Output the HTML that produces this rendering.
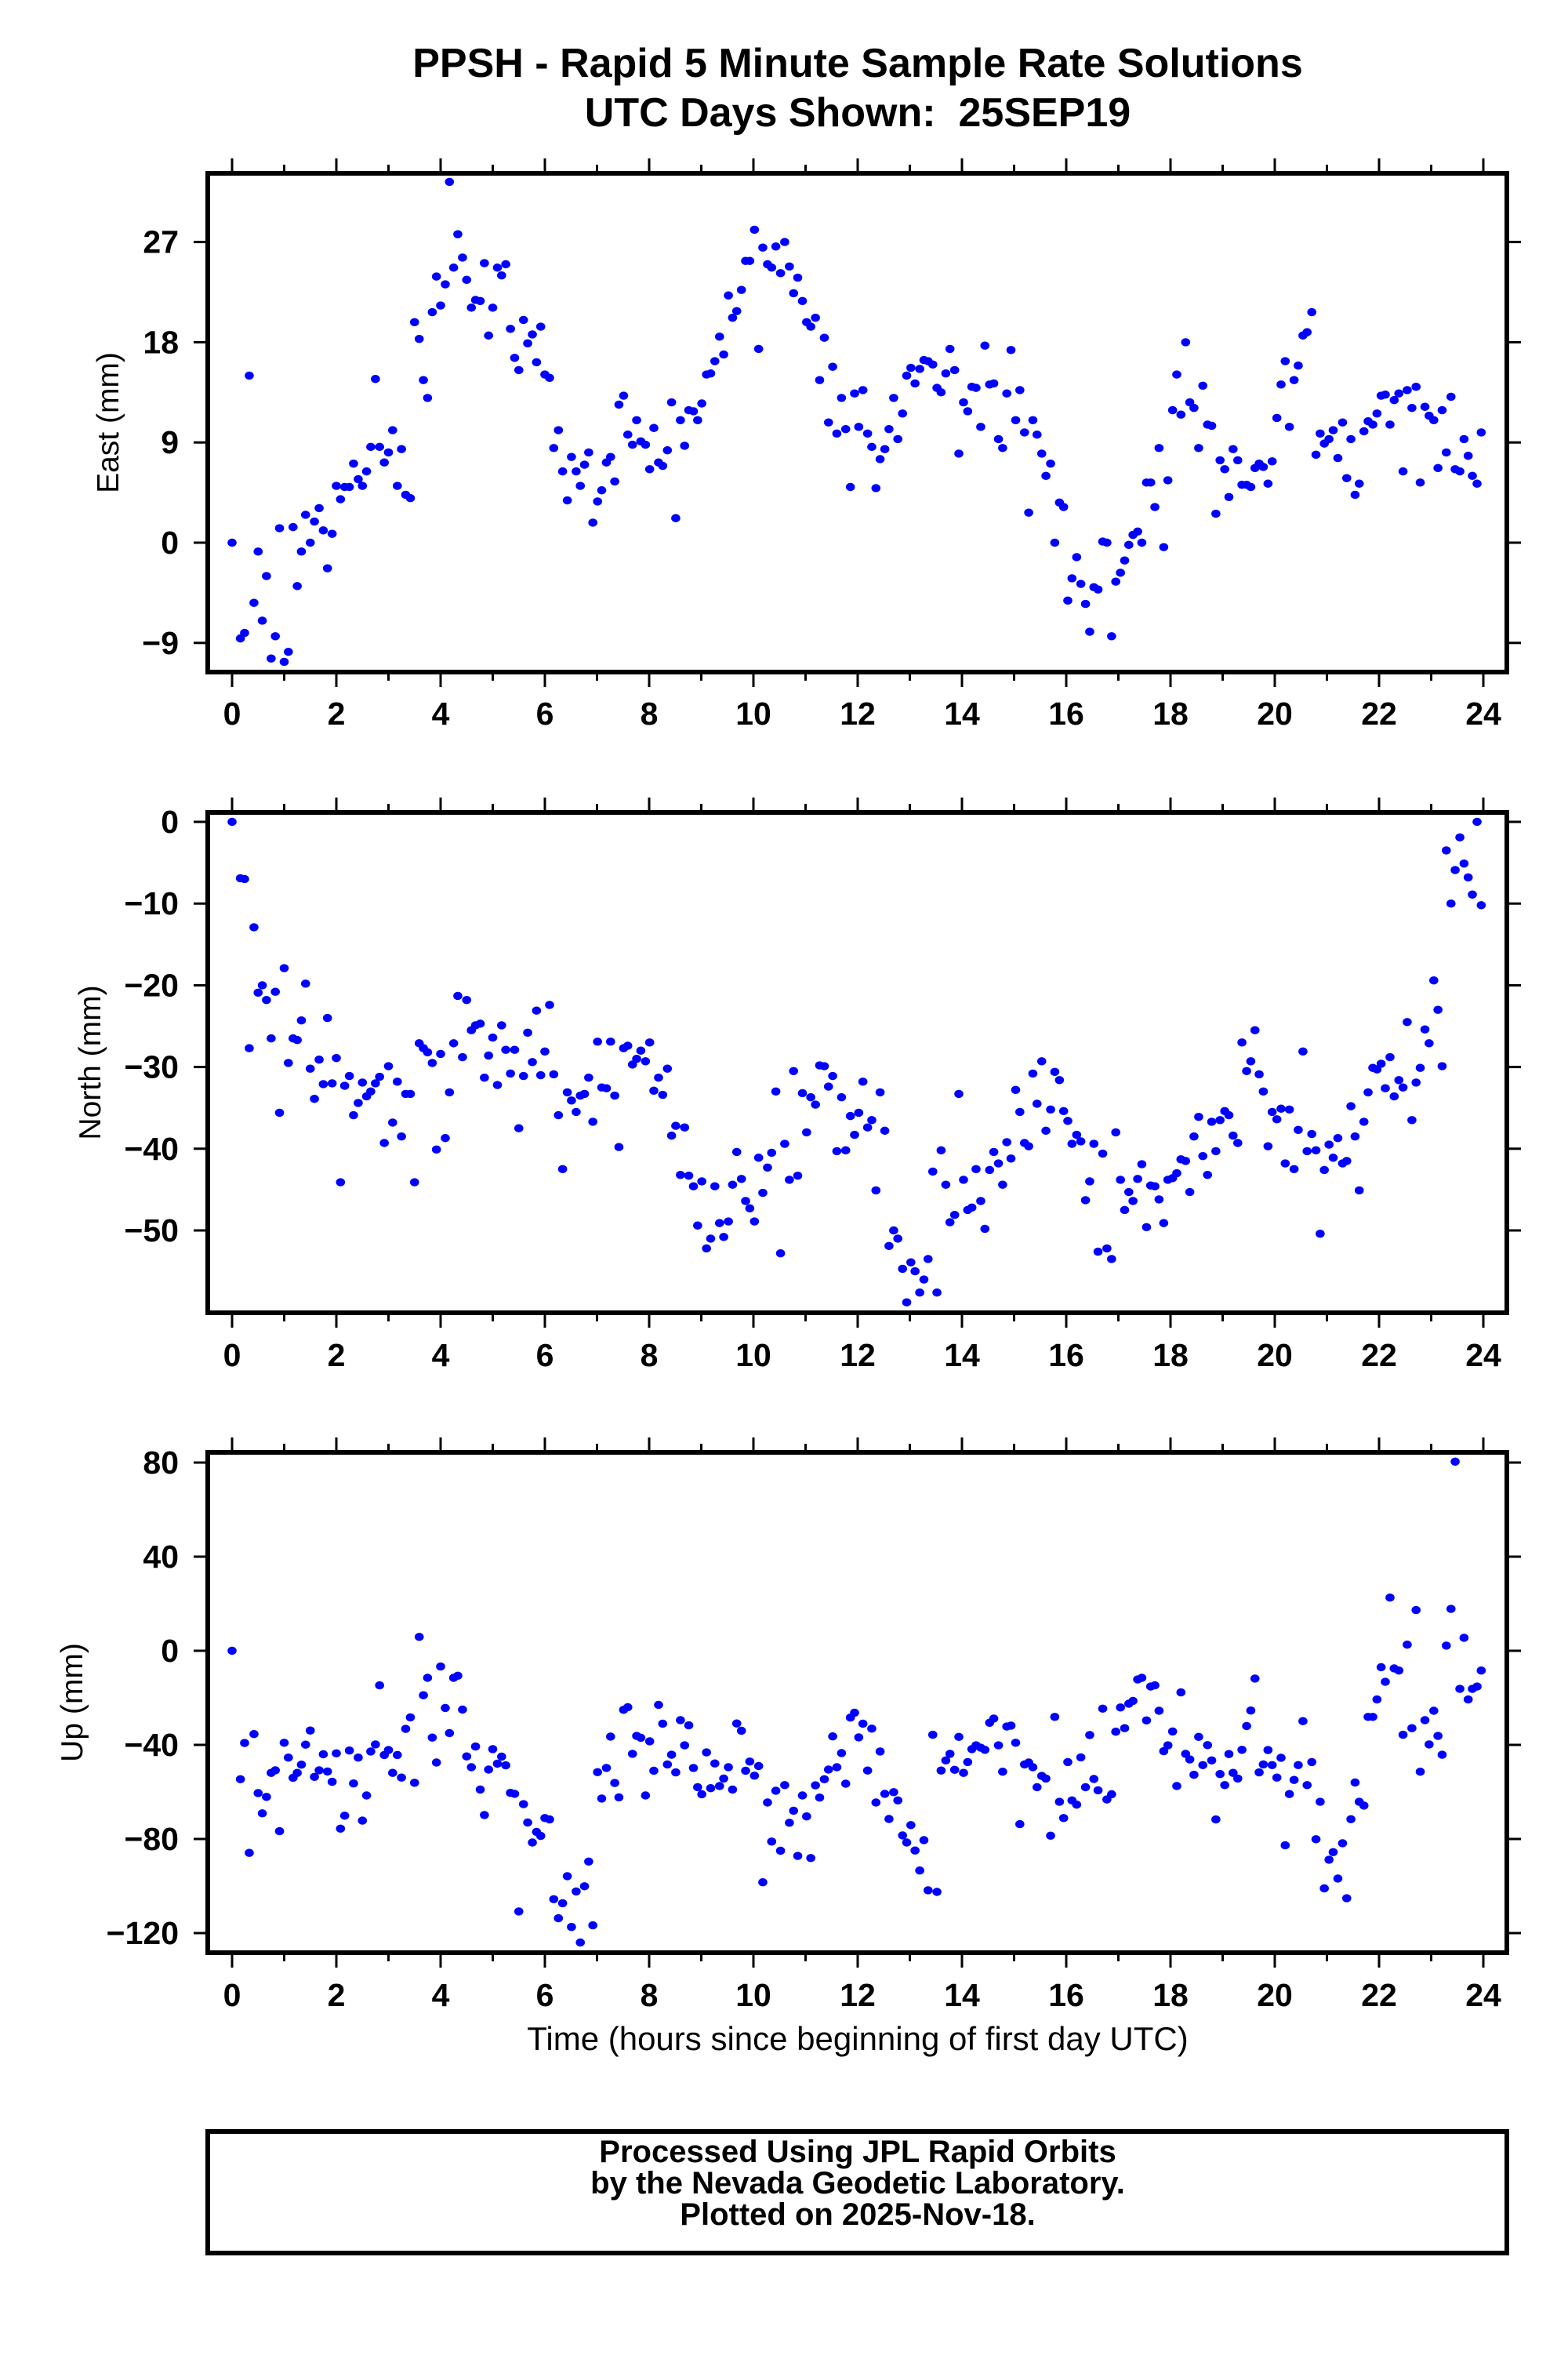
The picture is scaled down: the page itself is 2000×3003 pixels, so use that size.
<!DOCTYPE html>
<html><head><meta charset="utf-8"><style>
html,body{margin:0;padding:0;background:#fff}
svg{display:block}
text{font-family:"Liberation Sans",Arial,sans-serif}
</style></head><body>
<svg id="chart" width="2000" height="3003" viewBox="0 0 2000 3003" xmlns="http://www.w3.org/2000/svg">
<rect width="2000" height="3003" fill="#fff"/>
<text x="1094" y="98" font-size="52" font-weight="bold" text-anchor="middle">PPSH - Rapid 5 Minute Sample Rate Solutions</text>
<text x="1094" y="161" font-size="52" font-weight="bold" text-anchor="middle" xml:space="preserve">UTC Days Shown:  25SEP19</text>
<g id="panels"></g>
<text x="1094" y="2614" font-size="42" text-anchor="middle">Time (hours since beginning of first day UTC)</text>
<rect x="265" y="2718" width="1657" height="155" fill="none" stroke="#000" stroke-width="6"/>
<text x="1094" y="2757" font-size="40" font-weight="bold" text-anchor="middle">Processed Using JPL Rapid Orbits</text>
<text x="1094" y="2797" font-size="40" font-weight="bold" text-anchor="middle">by the Nevada Geodetic Laboratory.</text>
<text x="1094" y="2837" font-size="40" font-weight="bold" text-anchor="middle">Plotted on 2025-Nov-18.</text>
</svg>
<script>
const xTicks=[0,2,4,6,8,10,12,14,16,18,20,22,24];
const eastTicks=[-9,0,9,18,27];
const northTicks=[0,-10,-20,-30,-40,-50];
const upTicks=[80,40,0,-40,-80,-120];
const eastT=[0,.16,.24,.33,.42,.5,.58,.66,.75,.83,.91,1.0,1.08,1.17,1.25,1.33,1.41,1.5,1.58,1.67,1.75,1.83,1.92,2.0,2.08,2.16,2.25,2.33,2.42,2.5,2.58,2.66,2.75,2.83,2.92,3.0,3.08,3.17,3.25,3.33,3.42,3.5,3.59,3.67,3.75,3.84,3.92,4.0,4.09,4.17,4.25,4.33,4.42,4.5,4.59,4.67,4.76,4.84,4.92,5.0,5.09,5.17,5.25,5.34,5.42,5.5,5.59,5.67,5.76,5.84,5.92,6.0,6.09,6.17,6.26,6.34,6.43,6.51,6.6,6.68,6.76,6.84,6.92,7.01,7.09,7.18,7.26,7.34,7.42,7.51,7.59,7.68,7.76,7.84,7.93,8.01,8.09,8.18,8.26,8.35,8.43,8.51,8.6,8.68,8.76,8.85,8.93,9.01,9.1,9.18,9.26,9.35,9.43,9.52,9.6,9.68,9.77,9.85,9.93,10.02,10.1,10.18,10.27,10.35,10.43,10.52,10.6,10.69,10.77,10.85,10.94,11.02,11.1,11.19,11.27,11.36,11.44,11.52,11.6,11.69,11.77,11.86,11.94,12.02,12.1,12.19,12.27,12.35,12.43,12.52,12.6,12.69,12.77,12.86,12.94,13.02,13.1,13.19,13.27,13.35,13.44,13.52,13.6,13.69,13.77,13.86,13.94,14.03,14.11,14.19,14.27,14.36,14.44,14.53,14.61,14.7,14.78,14.86,14.94,15.03,15.11,15.2,15.28,15.36,15.44,15.53,15.61,15.7,15.78,15.87,15.95,16.03,16.11,16.2,16.28,16.37,16.45,16.53,16.61,16.7,16.78,16.87,16.95,17.04,17.12,17.2,17.28,17.37,17.45,17.54,17.62,17.7,17.78,17.87,17.95,18.04,18.12,18.2,18.29,18.37,18.45,18.54,18.62,18.71,18.79,18.87,18.95,19.04,19.12,19.2,19.29,19.37,19.46,19.54,19.62,19.7,19.78,19.87,19.95,20.04,20.12,20.2,20.28,20.37,20.45,20.54,20.62,20.71,20.79,20.87,20.95,21.04,21.12,21.21,21.3,21.38,21.46,21.54,21.62,21.71,21.79,21.88,21.96,22.04,22.12,22.21,22.29,22.38,22.46,22.54,22.63,22.71,22.79,22.88,22.96,23.05,23.13,23.21,23.29,23.38,23.46,23.55,23.63,23.71,23.79,23.88,23.96];
const eastV=[0,-8.6,-8.1,15.0,-5.4,-0.8,-7.0,-3.0,-10.4,-8.4,1.3,-10.7,-9.8,1.4,-3.9,-0.8,2.5,0,1.9,3.1,1.1,-2.3,0.8,5.1,3.9,5.0,5.0,7.1,5.7,5.1,6.4,8.6,14.7,8.6,7.2,8.1,10.1,5.1,8.4,4.3,4.0,19.8,18.3,14.6,13.0,20.7,23.9,21.3,23.2,32.4,24.7,27.7,25.6,23.6,21.1,21.8,21.7,25.1,18.6,21.1,24.7,24.0,25.0,19.2,16.6,15.5,20.0,17.9,18.7,16.2,19.4,15.1,14.8,8.5,10.1,6.4,3.8,7.7,6.4,5.1,7.0,8.1,1.8,3.7,4.7,7.2,7.7,5.5,12.4,13.2,9.7,8.8,11.0,9.1,8.8,6.6,10.3,7.2,6.9,8.3,12.6,2.2,11.0,8.7,11.9,11.8,11.0,12.5,15.1,15.2,16.3,18.5,16.9,22.2,20.2,20.8,22.7,25.3,25.3,28.1,17.4,26.5,25.0,24.7,26.6,24.2,27.0,24.8,22.4,23.8,21.7,19.8,19.4,20.2,14.6,18.4,10.8,15.8,9.8,13.0,10.2,5.0,13.4,10.4,13.7,9.8,8.6,4.9,7.5,8.4,10.2,13.0,9.3,11.6,15.0,15.7,14.3,15.6,16.4,16.3,16.0,13.9,13.5,15.2,17.4,15.5,8.0,12.6,11.8,14.0,13.9,10.4,17.7,14.2,14.3,9.3,8.5,13.4,17.3,11.0,13.7,9.9,2.7,11.0,9.7,8.0,6.0,7.1,0.0,3.6,3.2,-5.2,-3.2,-1.3,-3.7,-5.5,-8.0,-4.0,-4.2,0.1,0,-8.4,-3.5,-2.7,-1.6,-0.2,0.7,1.0,0,5.4,5.4,3.2,8.5,-0.4,5.6,11.9,15.1,11.5,18.0,12.6,12.1,8.5,14.1,10.6,10.5,2.6,7.4,6.6,4.1,8.4,7.4,5.2,5.2,5.0,6.7,7.1,6.8,5.3,7.3,11.2,14.2,16.3,10.4,14.6,15.9,18.6,18.9,20.7,7.9,9.8,8.9,9.3,10.1,7.6,10.8,5.8,9.3,4.3,5.3,10.0,10.9,10.6,11.6,13.2,13.3,10.6,12.8,13.4,6.4,13.7,12.1,14.0,5.4,12.2,11.4,11.0,6.7,11.9,8.1,13.1,6.6,6.4,9.3,7.8,6.0,5.3,9.9];
const northT=eastT.slice();
const northV=[0,-6.9,-7.0,-27.7,-12.9,-20.9,-20.0,-21.8,-26.5,-20.8,-35.6,-17.9,-29.5,-26.5,-26.7,-24.3,-19.8,-30.2,-33.9,-29.1,-32.1,-24.0,-32.0,-28.9,-44.1,-32.3,-31.1,-35.9,-34.4,-31.9,-33.6,-33.0,-32.0,-31.2,-39.3,-29.9,-36.8,-31.8,-38.5,-33.3,-33.3,-44.1,-27.1,-27.7,-28.2,-29.5,-40.1,-28.4,-38.7,-33.1,-27.1,-21.3,-28.8,-21.8,-25.5,-24.9,-24.7,-31.3,-28.6,-26.4,-32.2,-24.9,-27.9,-30.8,-27.9,-37.5,-31.1,-25.8,-29.4,-23.1,-31.0,-28.1,-22.4,-30.9,-35.9,-42.5,-33.1,-34.1,-35.5,-33.5,-33.3,-31.3,-36.7,-26.9,-32.5,-32.6,-26.9,-33.5,-39.8,-27.7,-27.4,-29.7,-29.0,-28.0,-29.3,-27.0,-32.9,-31.3,-33.4,-30.2,-38.4,-37.2,-43.2,-37.4,-43.3,-44.6,-49.4,-44.0,-52.2,-51.0,-44.6,-49.1,-50.8,-48.9,-44.4,-40.4,-43.7,-46.4,-47.3,-48.9,-41.1,-45.4,-42.3,-40.5,-33.0,-52.8,-39.4,-43.8,-30.5,-43.3,-33.2,-38.0,-33.7,-34.6,-29.8,-29.9,-32.4,-31.1,-40.3,-33.7,-40.2,-36.0,-38.3,-35.6,-31.8,-37.4,-36.5,-45.1,-33.1,-37.8,-51.9,-50.0,-51.0,-54.7,-58.8,-53.9,-55.0,-57.6,-56.0,-53.5,-42.8,-57.6,-40.2,-44.4,-49.0,-48.1,-33.3,-43.8,-47.5,-47.2,-42.5,-46.4,-49.8,-42.6,-40.4,-41.8,-44.4,-39.2,-41.2,-32.8,-35.5,-39.3,-39.7,-30.8,-34.5,-29.3,-37.8,-35.2,-30.6,-31.6,-35.4,-36.6,-39.4,-38.3,-39.1,-46.3,-44.0,-39.4,-52.6,-40.6,-52.2,-53.5,-38.0,-43.8,-47.5,-45.3,-46.4,-43.7,-41.9,-49.6,-44.5,-44.6,-46.2,-49.1,-43.8,-43.6,-43.0,-41.3,-41.5,-45.3,-38.5,-36.1,-40.9,-43.2,-36.7,-40.3,-36.5,-35.4,-35.9,-38.4,-39.3,-27.0,-30.5,-29.3,-25.5,-30.9,-33.0,-39.7,-35.5,-36.4,-35.1,-41.8,-35.2,-42.5,-37.7,-28.1,-40.3,-38.2,-40.2,-50.4,-42.6,-39.5,-41.1,-38.7,-41.8,-41.5,-34.8,-38.5,-45.1,-36.7,-33.1,-30.1,-30.3,-29.6,-32.6,-28.8,-33.6,-31.6,-32.5,-24.5,-36.5,-31.9,-30.1,-25.4,-27.1,-19.4,-23.0,-29.9,-3.5,-10.0,-5.9,-1.9,-5.1,-6.8,-8.9,0,-10.2];
const upT=eastT.slice();
const upV=[0,-54.6,-39.2,-85.9,-35.4,-60.5,-69.1,-62.1,-51.9,-50.8,-76.7,-39.1,-45.4,-54.0,-51.9,-48.4,-39.9,-33.9,-53.6,-50.8,-44.0,-51.3,-55.7,-43.6,-75.6,-70.1,-42.4,-56.4,-45.4,-72.2,-61.5,-42.8,-39.8,-14.7,-44.3,-42.2,-51.9,-44.3,-53.9,-33.2,-28.3,-56.1,5.9,-18.9,-11.5,-36.9,-47.5,-6.7,-24.3,-35.0,-11.5,-10.6,-25.0,-44.9,-49.5,-40.7,-59.0,-69.8,-50.5,-41.8,-48.0,-45.0,-48.7,-60.4,-60.8,-110.8,-65.2,-73.0,-81.5,-77.0,-78.7,-71.1,-71.7,-105.6,-113.7,-107.3,-95.8,-117.4,-102.3,-124.0,-100.1,-89.6,-116.7,-51.6,-62.8,-49.8,-36.5,-56.2,-62.3,-25.1,-24.0,-43.8,-36.2,-37.0,-61.5,-38.5,-51.0,-23.0,-31.0,-48.3,-44.2,-51.7,-29.5,-40.2,-31.7,-49.8,-58.0,-61.0,-43.2,-58.4,-47.9,-57.5,-54.3,-49.5,-59.0,-30.9,-34.0,-51.0,-47.1,-53.1,-49.0,-98.4,-64.5,-81.1,-59.5,-85.0,-57.1,-73.1,-68.0,-87.2,-61.5,-70.4,-88.1,-57.2,-62.4,-54.6,-50.5,-36.4,-49.5,-43.5,-56.5,-28.4,-26.3,-36.8,-31.0,-50.9,-33.1,-64.5,-42.8,-60.8,-71.5,-60.1,-63.6,-78.5,-81.5,-74.1,-84.9,-93.4,-80.5,-101.8,-35.7,-102.5,-50.9,-46.6,-43.8,-50.6,-36.6,-51.9,-47.3,-41.8,-40.2,-41.2,-42.1,-30.6,-28.8,-40.2,-51.4,-32.2,-31.8,-39.1,-73.7,-48.3,-47.5,-49.5,-58.0,-53.2,-54.3,-78.6,-28.1,-64.2,-71.1,-47.3,-63.6,-65.4,-45.3,-58.0,-35.8,-54.5,-59.3,-24.6,-63.2,-61.0,-34.4,-24.1,-32.9,-22.5,-21.3,-12.2,-11.5,-29.6,-15.2,-14.7,-25.5,-42.7,-40.2,-34.3,-57.5,-17.7,-43.8,-46.2,-52.7,-36.6,-48.6,-40.1,-46.6,-71.7,-52.4,-57.1,-43.9,-51.9,-54.3,-42.1,-32.0,-25.4,-11.8,-51.7,-48.3,-42.2,-48.6,-53.9,-45.5,-82.7,-60.9,-54.9,-48.6,-29.9,-57.1,-47.3,-80.1,-64.2,-101.0,-88.8,-85.6,-96.8,-81.8,-105.2,-71.6,-56.0,-64.2,-65.8,-28.1,-28.1,-20.7,-7.0,-13.2,22.6,-7.5,-8.4,-35.7,2.6,-32.9,17.3,-51.4,-29.5,-39.8,-25.5,-36.2,-44.2,2.2,17.8,80.4,-16.2,5.5,-20.7,-16.2,-15.2,-8.4];

const NS='http://www.w3.org/2000/svg';
const root=document.getElementById('panels');
const X0=265,X1=1922;
function xs(t){return 296+t*66.5;}
function mk(tag,attrs,parent){const e=document.createElementNS(NS,tag);for(const k in attrs)e.setAttribute(k,attrs[k]);parent.appendChild(e);return e;}

const panels=[
 {key:'east',title:'East (mm)',top:221,bot:857,y0:692,k:14.2,ticks:eastTicks,T:eastT,V:eastV,lab:924,tx:138},
 {key:'north',title:'North (mm)',top:1036,bot:1674,y0:1048,k:10.42,ticks:northTicks,T:northT,V:northV,lab:1742,tx:115},
 {key:'up',title:'Up (mm)',top:1852,bot:2490,y0:2105,k:3,ticks:upTicks,T:upT,V:upV,lab:2558,tx:92}
];
panels.forEach(p=>{
 const g=mk('g',{},root);
 
 
 const ys=v=>p.y0-v*p.k;
 for(let h=0;h<=24;h++){
  const x=xs(h),maj=h%2===0,L=maj?16:8;
  const a=mk('line',{x1:x,x2:x,y1:p.top-3,y2:p.top-3-L,stroke:'#000','stroke-width':3},g);
  
  
  const b=mk('line',{x1:x,x2:x,y1:p.bot+3,y2:p.bot+3+L,stroke:'#000','stroke-width':3},g);
  
  
 }
 xTicks.forEach(h=>{
  const t=mk('text',{x:xs(h),y:p.lab,'font-size':41,'font-weight':'bold','text-anchor':'middle'},g);
  t.textContent=String(h);
  
  
 });
 p.ticks.forEach(v=>{
  const y=ys(v);
  const l=mk('line',{x1:X0-3,x2:X0-18,y1:y,y2:y,stroke:'#000','stroke-width':3},g);
  
  
  const r=mk('line',{x1:X1+3,x2:X1+18,y1:y,y2:y,stroke:'#000','stroke-width':3},g);
  
  
  const t=mk('text',{x:228,y:y+14,'font-size':41,'font-weight':'bold','text-anchor':'end'},g);
  t.textContent=(v<0?'\u2212'+Math.abs(v):String(v));
  
  
 });
 const yt=mk('text',{x:p.tx,y:(p.top+p.bot)/2,'font-size':39,'text-anchor':'middle',transform:`rotate(-90 ${p.tx} ${(p.top+p.bot)/2})`,dy:13},g);
 yt.textContent=p.title;
 
 
 const cp=mk('clipPath',{id:'clip-'+p.key},g);
 mk('rect',{x:X0,y:p.top-8,width:X1-X0,height:p.bot-p.top+16},cp);
 const dots=mk('g',{'clip-path':`url(#clip-${p.key})`,fill:'#0000ff'},g);
 
 
 p.T.forEach((t,i)=>{
  const c=mk('ellipse',{cx:xs(t),cy:ys(p.V[i]),rx:5.8,ry:5.2},dots);
  
  
 });
 const fr=mk('rect',{x:X0,y:p.top,width:X1-X0,height:p.bot-p.top,fill:'none',stroke:'#000','stroke-width':6},g);
 
 
});
</script>
</body></html>
